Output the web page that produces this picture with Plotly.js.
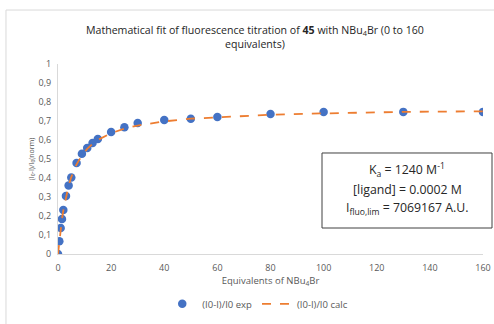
<!DOCTYPE html>
<html>
<head>
<meta charset="utf-8">
<script src="https://cdn.plot.ly/plotly-3.0.1.min.js"></script>
<style>html,body{margin:0;padding:0;background:#fff;}#chart{width:494px;height:324px;}</style>
</head>
<body>
<div id="chart"></div>
<script>
// Equivalents of NBu4Br
const equivalents = [0, 0.5, 1, 1.5, 2, 3, 4, 5, 7, 9, 11, 13, 15, 20, 25, 30, 40, 50, 60, 80, 100, 130, 160];
// (I0-I)/I0 experimental
const expValues = [0, 0.067, 0.137, 0.184, 0.232, 0.305, 0.361, 0.403, 0.479, 0.528, 0.558, 0.584, 0.605, 0.642, 0.667, 0.689, 0.705, 0.712, 0.721, 0.737, 0.747, 0.748, 0.748];
// (I0-I)/I0 calculated fit
const calcValues = [0, 0.071, 0.131, 0.183, 0.229, 0.302, 0.360, 0.405, 0.472, 0.519, 0.553, 0.579, 0.600, 0.636, 0.660, 0.676, 0.698, 0.712, 0.720, 0.733, 0.740, 0.748, 0.751];
const xTicks = [0, 20, 40, 60, 80, 100, 120, 140, 160];
const yTicks = [0, 0.1, 0.2, 0.3, 0.4, 0.5, 0.6, 0.7, 0.8, 0.9, 1];
const boxLines = ['K<sub>a</sub> = 1240 M<sup>-1</sup>', '[ligand] = 0.0002 M', 'I<sub>fluo,lim</sub> = 7069167 A.U.'];

const FONT = "'Open Sans', 'Noto Sans', sans-serif";
const traces = [
  {x: equivalents, y: expValues, type: 'scatter', mode: 'markers', name: '(I0-I)/I0 exp',
   marker: {color: '#4472C4', size: 8.5}},
  {x: equivalents, y: calcValues, type: 'scatter', mode: 'lines', name: '(I0-I)/I0 calc',
   line: {color: '#ED7D31', width: 1.8, dash: 'dash'}}
];
const lineY = [0.442, 0.342, 0.242];
const layout = {
  width: 494, height: 324,
  margin: {l: 58, r: 11, t: 64, b: 70},
  paper_bgcolor: '#fff', plot_bgcolor: '#fff',
  separators: ',.',
  font: {family: FONT, color: '#595959', size: 9},
  title: {text: 'Mathematical fit of fluorescence titration of <b>45</b> with NBu<sub>4</sub>Br (0 to 160<br>equivalents)',
    font: {family: FONT, size: 10.6, color: '#262626'}, x: 0.516, xanchor: 'center', xref: 'container', y: 0.895, yanchor: 'top', yref: 'container'},
  xaxis: {range: [0, 160], tickvals: xTicks, showgrid: false, zeroline: false, showline: true, automargin: false,
    linecolor: '#d9d9d9', linewidth: 1, ticks: '', ticklabelstandoff: 5, tickfont: {size: 9, color: '#595959'},
    title: {text: 'Equivalents of NBu<sub>4</sub>Br', font: {size: 9.5, color: '#595959'}, standoff: 2}},
  yaxis: {range: [0, 1], tickvals: yTicks, showgrid: false, zeroline: false, showline: true, automargin: false,
    linecolor: '#d9d9d9', linewidth: 1, ticks: '', ticklabelstandoff: 4, tickfont: {size: 9, color: '#595959'},
    title: {text: '(I<sub>0</sub>-I)/I<sub>0</sub>(norm)', font: {size: 7, color: '#595959'}, standoff: -15}},
  showlegend: true,
  legend: {orientation: 'h', x: 0.47, xanchor: 'center', yref: 'container', y: 0.107, yanchor: 'top',
    font: {size: 9.5, color: '#595959'}, itemwidth: 30},
  annotations: boxLines.map((t, i) => ({
    xref: 'paper', yref: 'paper', x: 0.8212, y: lineY[i], xanchor: 'center', yanchor: 'middle',
    text: t, showarrow: false, font: {family: FONT, size: 12.3, color: '#262626'}, align: 'center'
  })),
  shapes: [
    {type: 'rect', xref: 'paper', yref: 'paper', x0: -0.1224, x1: 1.2, y0: -0.6, y1: 1.284,
     line: {color: '#d9d9d9', width: 1}, fillcolor: 'rgba(0,0,0,0)', layer: 'below'},
    {type: 'rect', xref: 'paper', yref: 'paper', x0: 0.6212, x1: 1.0212, y0: 0.1368, y1: 0.5316,
     line: {color: '#404040', width: 1}, fillcolor: '#ffffff', layer: 'above'}
  ]
};
Plotly.newPlot('chart', traces, layout, {displayModeBar: false, staticPlot: true});
</script>
</body>
</html>
